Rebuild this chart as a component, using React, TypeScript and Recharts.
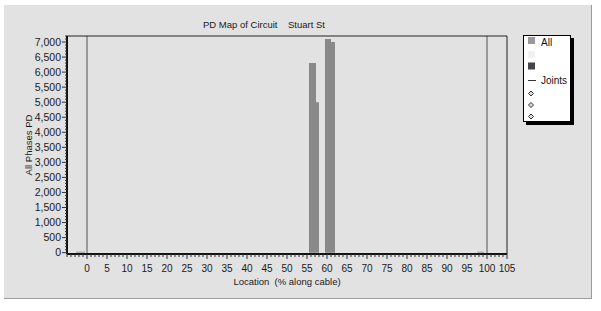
import React from "react";
import { ComposedChart, Area, XAxis, YAxis, ReferenceLine, Legend } from "recharts";

// PD bars: start / end location (% along cable) and level
const BAR_START = [55.5, 57.25, 59.5, 61];
const BAR_END = [57.25, 58, 61, 62];
const BAR_PD = [6300, 5000, 7100, 7000];

// near-zero readings at the cable ends
const END_START = [-2.75, 97.5];
const END_END = [-0.5, 99.25];
const END_PD = [35, 35];

const JOINTS = [0, 100];

const X_LABELS = [0, 5, 10, 15, 20, 25, 30, 35, 40, 45, 50, 55, 60, 65, 70, 75, 80, 85, 90, 95, 100, 105];
const Y_LABELS = [0, 500, 1000, 1500, 2000, 2500, 3000, 3500, 4000, 4500, 5000, 5500, 6000, 6500, 7000];

const X_DOMAIN = [-5, 105];
const Y_DOMAIN = [-45, 7200];

const FONT = '"Liberation Sans", Arial, sans-serif';

// minor ticks every 1 % and every 100 PD
const X_MINOR = Array.from({ length: 111 }, (_, i) => i - 5);
const Y_MINOR = Array.from({ length: 73 }, (_, i) => i * 100);

type Pt = { loc: number; all?: number; edge?: number };

function stepPoints(starts: number[], ends: number[], vals: number[], key: "all" | "edge"): Pt[] {
  const out: Pt[] = [];
  starts.forEach((s, i) => {
    out.push({ loc: s, [key]: vals[i] });
    if (starts[i + 1] !== ends[i]) out.push({ loc: ends[i], [key]: 0 });
  });
  return out;
}

const data: Pt[] = [
  ...stepPoints(BAR_START, BAR_END, BAR_PD, "all"),
  ...stepPoints(END_START, END_END, END_PD, "edge"),
].sort((a, b) => a.loc - b.loc);

const XTick = (props: any) => {
  const { x, y, payload } = props;
  const major = X_LABELS.includes(payload.value);
  return (
    <g>
      <line x1={x} x2={x} y1={y} y2={y + (major ? 5 : 3)} stroke="#333" strokeWidth={1} />
      {major && (
        <text x={x} y={y + 17.5} textAnchor="middle" fontSize={10} fontFamily={FONT} fill="#1a1a1a">
          {payload.value}
        </text>
      )}
    </g>
  );
};

const YTick = (props: any) => {
  const { x, y, payload } = props;
  const major = Y_LABELS.includes(payload.value);
  return (
    <g>
      <line x1={x - (major ? 5 : 2)} x2={x} y1={y} y2={y} stroke="#333" strokeWidth={1} />
      {major && (
        <text x={x - 6} y={y + 3.7} textAnchor="end" fontSize={10.5} fontFamily={FONT} fill="#1a1a1a">
          {payload.value.toLocaleString("en-US")}
        </text>
      )}
    </g>
  );
};

const Diamond = ({ cy }: { cy: number }) => (
  <path d={`M531,${cy - 2.5}L533.5,${cy}L531,${cy + 2.5}L528.5,${cy}Z`} fill="#ddd" stroke="#333" strokeWidth={1} />
);

const LegendBox = () => (
  <svg width={60} height={100} style={{ display: "block", overflow: "visible" }}>
    <g transform="translate(-523,-35)">
      <rect x={526} y={38} width={48} height={87} fill="#000" />
      <rect x={523.5} y={35.5} width={47} height={86} fill="#fff" stroke="#000" />
      <rect x={528} y={37} width={7} height={7} fill="#999" />
      <text x={541} y={46} fontSize={10} fontFamily={FONT} fill="#111">All</text>
      <rect x={528} y={51} width={7} height={7} fill="#f1f1f1" />
      <rect x={528} y={62.5} width={7} height={7} fill="#454545" />
      <line x1={528} x2={536} y1={80.5} y2={80.5} stroke="#333" />
      <text x={541} y={84} fontSize={10} fontFamily={FONT} fill="#111">Joints</text>
      <Diamond cy={93.5} />
      <Diamond cy={105} />
      <Diamond cy={116.5} />
    </g>
  </svg>
);

export default function App() {
  return (
    <div style={{ position: "absolute", left: 0, top: 0, width: 601, height: 311, background: "#fff" }}>
      <div
        style={{
          position: "absolute",
          left: 4,
          top: 5,
          width: 587,
          height: 293,
          background: "#e2e2e2",
          borderRight: "1px solid #9c9c9c",
          borderBottom: "1px solid #9c9c9c",
        }}
      />
      <div
        style={{
          position: "absolute",
          left: 203,
          top: 19,
          fontFamily: FONT,
          fontSize: 9.5,
          color: "#1a1a1a",
          whiteSpace: "pre",
          lineHeight: "12px",
        }}
      >
        {"PD Map of Circuit    Stuart St"}
      </div>
      <div style={{ position: "absolute", left: 0, top: 0 }}>
        <ComposedChart width={601} height={311} data={data} margin={{ top: 36, right: 94, bottom: 0, left: 0 }}>
          <XAxis
            type="number"
            dataKey="loc"
            domain={X_DOMAIN}
            ticks={X_MINOR}
            interval={0}
            allowDataOverflow
            height={57}
            tickSize={0}
            tickMargin={0}
            tickLine={false}
            axisLine={{ stroke: "#111", strokeWidth: 2 }}
            tick={<XTick />}
            label={{
              content: (p: any) => (
                <text
                  x={p.viewBox.x + p.viewBox.width / 2}
                  y={285}
                  textAnchor="middle"
                  fontSize={9.5}
                  fontFamily={FONT}
                  fill="#1a1a1a"
                  style={{ whiteSpace: "pre" }}
                >
                  {"Location  (% along cable)"}
                </text>
              ),
            }}
          />
          <YAxis
            type="number"
            domain={Y_DOMAIN}
            ticks={Y_MINOR}
            interval={0}
            allowDataOverflow
            width={67}
            tickSize={0}
            tickMargin={0}
            tickLine={false}
            axisLine={{ stroke: "#111", strokeWidth: 2 }}
            tick={<YTick />}
            label={{
              content: (p: any) => {
                const cy = p.viewBox.y + p.viewBox.height / 2;
                return (
                  <text
                    x={32}
                    y={cy}
                    transform={`rotate(-90 32 ${cy})`}
                    textAnchor="middle"
                    fontSize={9.5}
                    fontFamily={FONT}
                    fill="#1a1a1a"
                  >
                    All Phases PD
                  </text>
                );
              },
            }}
          />
          <Area
            type="stepAfter"
            dataKey="edge"
            name="Ends"
            fill="#a8a8a8"
            fillOpacity={1}
            stroke="none"
            connectNulls
            isAnimationActive={false}
            legendType="none"
          />
          <Area
            type="stepAfter"
            dataKey="all"
            name="All"
            fill="#898989"
            fillOpacity={1}
            stroke="none"
            connectNulls
            isAnimationActive={false}
          />
          {JOINTS.map((j) => (
            <ReferenceLine key={j} x={j} stroke="#555" strokeWidth={1} />
          ))}
          <ReferenceLine y={Y_DOMAIN[1]} stroke="#222" strokeWidth={1} />
          <ReferenceLine x={X_DOMAIN[1]} stroke="#222" strokeWidth={1} />
          <Legend
            layout="horizontal"
            verticalAlign="middle"
            align="center"
            wrapperStyle={{ position: "absolute", left: 523, top: 35, width: 60, height: 100 }}
            content={<LegendBox />}
          />
        </ComposedChart>
      </div>
    </div>
  );
}
